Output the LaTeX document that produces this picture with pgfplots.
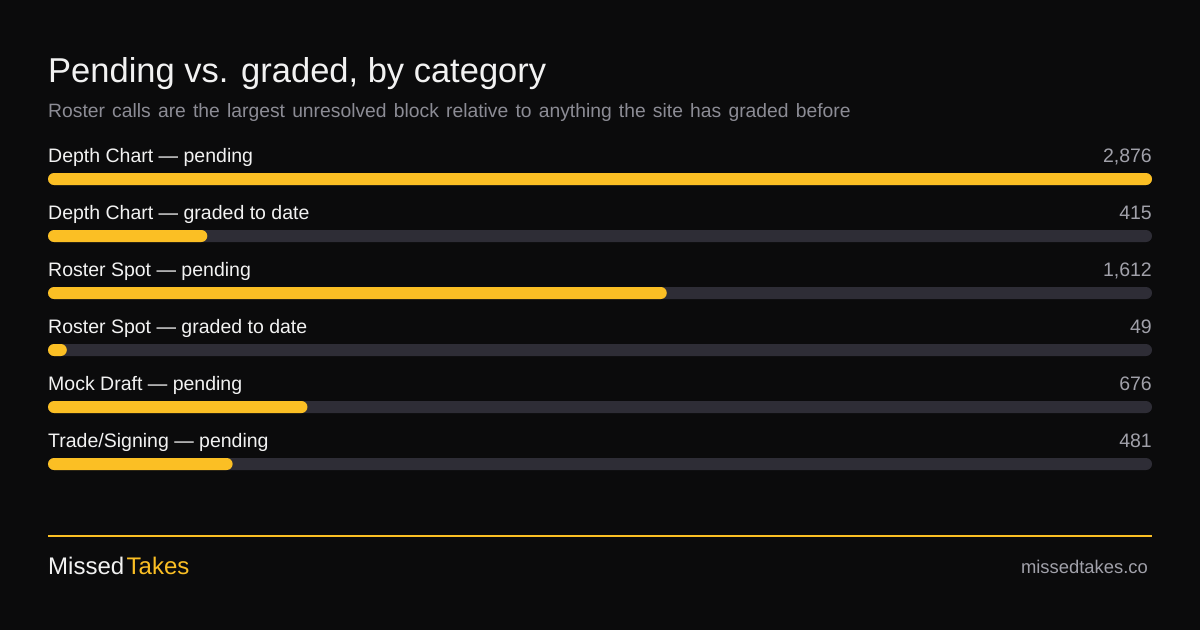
\documentclass[border=0pt]{standalone}
\usepackage{pgfplots}
\pgfplotsset{compat=1.18}
\usepackage{fontspec}
\setmainfont{Liberation Sans}

\definecolor{bg}{HTML}{0B0B0C}
\definecolor{amber}{HTML}{FBBF24}
\definecolor{track}{HTML}{2E2D36}
\definecolor{ink}{HTML}{F2F2F2}
\definecolor{sub}{HTML}{8C8C95}
\definecolor{val}{HTML}{A1A1AA}

\begin{document}
\begin{tikzpicture}
% page background, 1pt = 1px
\fill[bg] (0pt,0pt) rectangle (1200pt,630pt);
\useasboundingbox (0pt,0pt) rectangle (1200pt,630pt);

\node[anchor=base west, inner sep=0pt, text=ink, font=\fontsize{34.5}{40}\selectfont] at (48pt,547.3pt) {Pending vs. graded, by category};
\node[anchor=base west, inner sep=0pt, text=sub, font=\fontsize{19.3}{23}\selectfont] at (48pt,512.7pt) {\spaceskip=7.2pt plus 1pt\relax Roster calls are the largest unresolved block relative to anything the site has graded before};

\begin{axis}[
    at={(48pt,137.5pt)}, anchor=south west,
    scale only axis, width=1104pt, height=342pt,
    xmin=0, xmax=2876, ymin=-0.5, ymax=5.5, y dir=reverse,
    hide axis, clip=false,
    xbar, bar width=12pt, bar shift=0pt,
    every axis plot/.append style={draw=none, rounded corners=6pt},
    ]
    % grey tracks
    \addplot[fill=track] coordinates {(2876,0) (2876,1) (2876,2) (2876,3) (2876,4) (2876,5)};
    % values
    \addplot[fill=amber] coordinates {(2876,0) (415,1) (1612,2) (49,3) (676,4) (481,5)};

    \begin{scope}[every node/.style={inner sep=0pt, font=\fontsize{19.5}{23}\selectfont, yshift=16.3pt}]
    \node[anchor=base west, text=ink] at (axis cs:0,0) {Depth Chart — pending};
    \node[anchor=base west, text=ink] at (axis cs:0,1) {Depth Chart — graded to date};
    \node[anchor=base west, text=ink] at (axis cs:0,2) {Roster Spot — pending};
    \node[anchor=base west, text=ink] at (axis cs:0,3) {Roster Spot — graded to date};
    \node[anchor=base west, text=ink] at (axis cs:0,4) {Mock Draft — pending};
    \node[anchor=base west, text=ink] at (axis cs:0,5) {Trade/Signing — pending};
    \node[anchor=base east, text=val] at (axis cs:2876,0) {2,876};
    \node[anchor=base east, text=val] at (axis cs:2876,1) {415};
    \node[anchor=base east, text=val] at (axis cs:2876,2) {1,612};
    \node[anchor=base east, text=val] at (axis cs:2876,3) {49};
    \node[anchor=base east, text=val] at (axis cs:2876,4) {676};
    \node[anchor=base east, text=val] at (axis cs:2876,5) {481};
    \end{scope}
\end{axis}

% footer
\draw[amber, line width=2pt] (48pt,94pt) -- (1152pt,94pt);
\node[anchor=base west, inner sep=0pt, font=\fontsize{24}{28}\selectfont] at (48pt,55.7pt) {\textcolor{ink}{Missed}\kern2.5pt\textcolor{amber}{Takes}};
\node[anchor=base east, inner sep=0pt, text=val, font=\fontsize{18.4}{22}\selectfont] at (1148pt,56.5pt) {missedtakes.co};
\end{tikzpicture}
\end{document}
